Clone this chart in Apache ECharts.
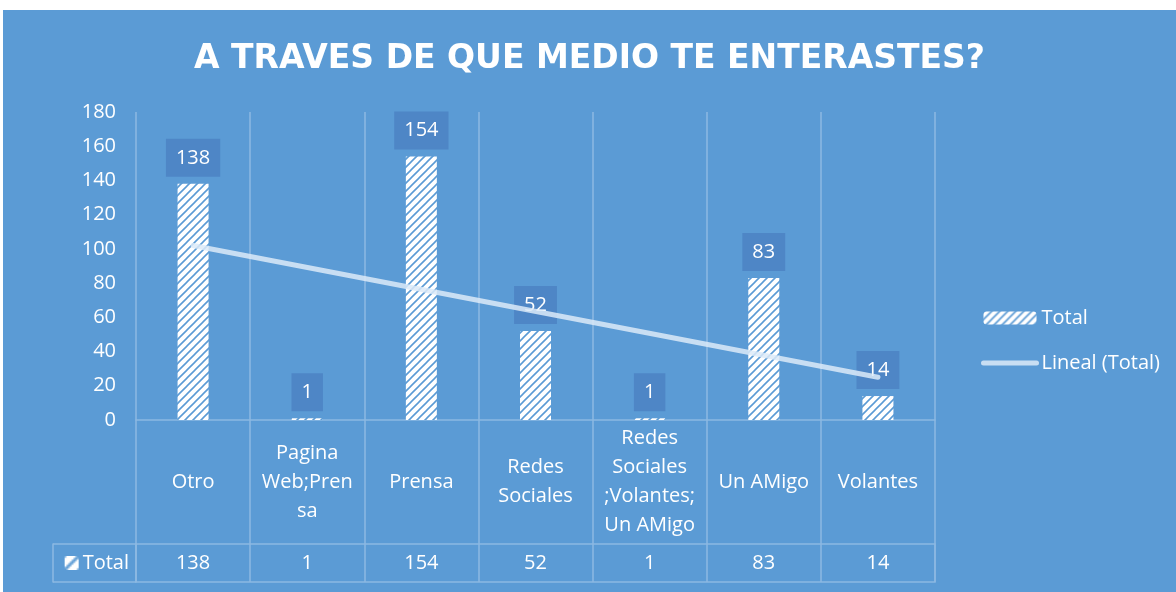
<!DOCTYPE html>
<html>
<head>
<meta charset="utf-8">
<script src="https://cdn.jsdelivr.net/npm/echarts@6/dist/echarts.min.js"></script>
<style>
  html, body { margin: 0; padding: 0; background: #fff; }
  #chart-container { position: absolute; left: 3px; top: 10px; width: 1173px; height: 582px; }
</style>
</head>
<body>
<div id="chart-container"></div>
<script>
var categories = ["Otro", "Pagina\nWeb;Pren\nsa", "Prensa", "Redes\nSociales", "Redes\nSociales\n;Volantes;\nUn AMigo", "Un AMigo", "Volantes"];
var totals = [138, 1, 154, 52, 1, 83, 14];
// linear trend, ends only
var trend = [102, "-", "-", "-", "-", "-", 25];
var yMin = 0, yMax = 180, yStep = 20;

var bgColor = "#5B9BD5";
var gridColor = "#8CB9E2";
var labelBox = "#4E86C6";
var trendColor = "rgba(220,234,248,0.85)";
var font = "Open Sans";

// hatch pattern like excel "wide upward diagonal"
function makeHatch() {
  var c = document.createElement("canvas");
  c.width = 8; c.height = 8;
  var ctx = c.getContext("2d");
  ctx.fillStyle = "#ffffff";
  ctx.fillRect(0, 0, 8, 8);
  ctx.strokeStyle = bgColor;
  ctx.lineWidth = 1.6;
  ctx.beginPath();
  ctx.moveTo(0, 8); ctx.lineTo(8, 0);
  ctx.moveTo(-2, 2); ctx.lineTo(2, -2);
  ctx.moveTo(6, 10); ctx.lineTo(10, 6);
  ctx.stroke();
  return c;
}
var hatch = makeHatch();

var myChart = echarts.init(document.getElementById("chart-container"));

var option = {
  backgroundColor: bgColor,
  animation: false,
  textStyle: { fontFamily: font, color: "#fff" },
  title: {
    text: "A TRAVES DE QUE MEDIO TE ENTERASTES?",
    left: "center",
    top: 28,
    textStyle: { color: "#fff", fontSize: 33, fontWeight: "bold", fontFamily: "DejaVu Sans" }
  },
  legend: {
    orient: "vertical",
    left: 973,
    top: 293,
    itemWidth: 53,
    itemHeight: 13,
    itemGap: 25,
    textStyle: { color: "#fff", fontSize: 20, fontFamily: font },
    data: [
      { name: "Total" },
      {
        name: "Lineal (Total)",
        itemStyle: { opacity: 0 },
        lineStyle: { color: trendColor, width: 5, cap: "round" }
      }
    ]
  },
  grid: [
    { left: 133, top: 102, width: 799, height: 308 },
    { left: 133, top: 410, width: 799, height: 124 },
    { left: 133, top: 534, width: 799, height: 38, show: true, borderColor: gridColor, borderWidth: 1.5 }
  ],
  xAxis: [
    {
      gridIndex: 0, type: "category", data: categories,
      axisLine: { show: true, lineStyle: { color: gridColor, width: 1.5 } },
      axisTick: { show: false },
      axisLabel: { show: false },
      splitLine: { show: true, lineStyle: { color: gridColor, width: 1.5 } }
    },
    {
      gridIndex: 1, type: "category", data: categories,
      axisLine: { show: false },
      axisTick: { show: false },
      axisLabel: {
        interval: 0, margin: -62, verticalAlign: "middle",
        color: "#fff", fontSize: 20, lineHeight: 29, fontFamily: font
      },
      splitLine: { show: true, lineStyle: { color: gridColor, width: 1.5 } }
    },
    {
      gridIndex: 2, type: "category", data: categories,
      axisLine: { show: false },
      axisTick: { show: false },
      axisLabel: {
        interval: 0, margin: -19, verticalAlign: "middle",
        color: "#fff", fontSize: 20, fontFamily: font,
        formatter: function (v, i) { return String(totals[i]); }
      },
      splitLine: { show: true, lineStyle: { color: gridColor, width: 1.5 } }
    }
  ],
  yAxis: [
    {
      gridIndex: 0, type: "value", min: yMin, max: yMax, interval: yStep,
      axisLine: { show: false }, axisTick: { show: false },
      splitLine: { show: false },
      axisLabel: { color: "#fff", fontSize: 20, margin: 20, fontFamily: font }
    },
    {
      gridIndex: 1, type: "value", show: false
    },
    {
      gridIndex: 2, type: "category", data: ["Total"],
      axisLine: { show: true, lineStyle: { color: gridColor, width: 1.5 } },
      axisTick: { show: true, length: 83, lineStyle: { color: gridColor, width: 1.5 } },
      axisLabel: {
        margin: 7, color: "#fff", fontSize: 20, fontFamily: font,
        formatter: function (v) { return "{i|}{t|" + v + "}"; },
        rich: {
          i: { width: 14, height: 14, backgroundColor: { image: hatch } },
          t: { color: "#fff", fontSize: 20, fontFamily: font, padding: [0, 0, 0, 4] }
        }
      }
    },
    {
      gridIndex: 2, type: "category", data: ["Total"], position: "left", offset: 83,
      axisLine: { show: true, lineStyle: { color: gridColor, width: 1.5 } },
      axisTick: { show: false }, axisLabel: { show: false }
    }
  ],
  series: [
    {
      name: "Total",
      type: "bar",
      xAxisIndex: 0, yAxisIndex: 0,
      data: totals,
      barWidth: 31,
      itemStyle: { color: { image: hatch, repeat: "repeat" } },
      label: {
        show: true, position: "top", distance: 7,
        color: "#fff", fontSize: 20, lineHeight: 22, fontFamily: font,
        backgroundColor: labelBox, padding: [8, 10, 8, 10]
      }
    },
    {
      name: "Lineal (Total)",
      type: "line",
      xAxisIndex: 0, yAxisIndex: 0,
      data: trend,
      connectNulls: true,
      symbol: "none",
      z: 3,
      lineStyle: { color: trendColor, width: 5, cap: "round" },
      itemStyle: { color: trendColor }
    }
  ]
};

myChart.setOption(option);
window.onresize = function () { myChart.resize(); };
</script>
</body>
</html>
